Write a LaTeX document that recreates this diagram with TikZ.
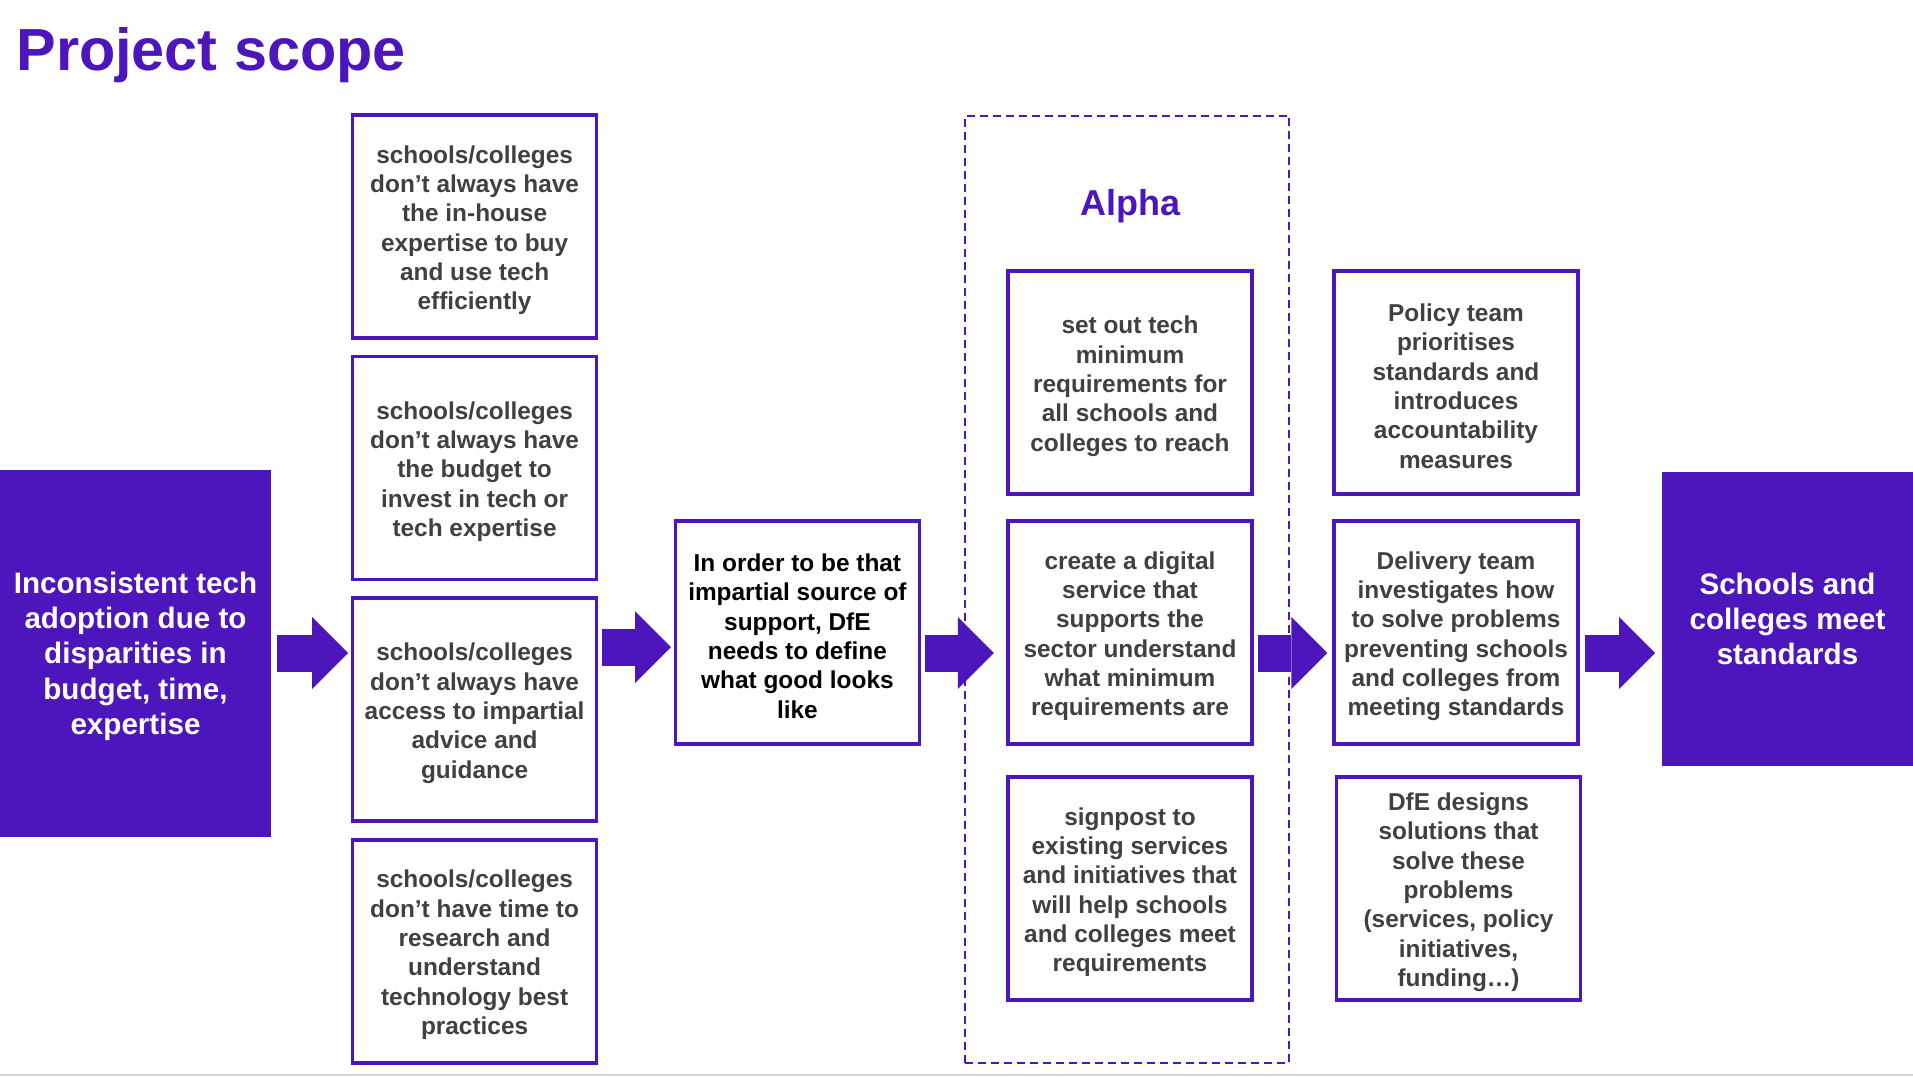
\documentclass[tikz,border=0pt]{standalone}
\usepackage{fontspec}
\setmainfont{Liberation Sans}
\usepackage{xcolor}
\usepackage{tikz}
\usetikzlibrary{positioning,arrows.meta}
\definecolor{dfepurple}{RGB}{76,22,188}
\definecolor{textgrey}{RGB}{64,64,64}
\definecolor{rulegrey}{RGB}{212,212,212}
\newcommand{\tstrut}{\rule{0pt}{12.5pt}}

\begin{document}
\begin{tikzpicture}[
      node distance=7.5pt and 39.2pt,
      box/.style={draw=dfepurple, line width=1.8pt, align=center,
                  minimum width=122pt, minimum height=111.5pt, inner sep=2pt,
                  text=textgrey, font=\fontsize{12.2}{14.65}\selectfont\bfseries},
      keybox/.style={box, text=black},
      endbox/.style={fill=dfepurple, align=center, text=white, inner sep=0pt,
                     font=\fontsize{14.8}{17.7}\selectfont\bfseries},
      phase/.style={draw=dfepurple, line width=1pt, dash pattern=on 4pt off 2.5pt},
      bigarr/.style={-{Triangle[length=18pt, width=36pt, line width=0pt]},
                     line width=18.5pt, draw=dfepurple, shorten <=2pt, shorten >=2pt}
  ]
  \useasboundingbox (0,0) rectangle (956.5pt,-538.5pt);

  %% ---- Title
  \node[anchor=base west, inner sep=0pt, text=dfepurple,
        font=\fontsize{29.7}{36}\selectfont\bfseries] (title) at (8pt,-35pt) {Project scope};

  %% ---- Start and end blocks
  \node[endbox, minimum width=135.5pt, minimum height=183.5pt] (problem) at (67.75pt,-326.75pt)
    {\rule{0pt}{13.5pt}Inconsistent tech\\adoption due to\\disparities in\\budget, time,\\expertise};
  \node[endbox, minimum width=125.5pt, minimum height=147pt] (goal) at (893.75pt,-309.5pt)
    {Schools and\\colleges meet\\standards};

  %% ---- Column 1: causes (stacked top to bottom)
  \node[box] (cause1) at (237.3pt,-113.2pt)
    {\tstrut schools/colleges\\don’t always have\\the in-house\\expertise to buy\\and use tech\\efficiently};
  \node[box, below=of cause1] (cause2)
    {\tstrut schools/colleges\\don’t always have\\the budget to\\invest in tech or\\tech expertise};
  \node[box, below=of cause2] (cause3)
    {\tstrut schools/colleges\\don’t always have\\access to impartial\\advice and\\guidance};
  \node[box, below=of cause3] (cause4)
    {\tstrut schools/colleges\\don’t have time to\\research and\\understand\\technology best\\practices};

  %% ---- Column 2: what DfE needs
  \node[keybox] (need) at (398.7pt,-316.25pt)
    {\tstrut In order to be that\\impartial source of\\support, DfE\\needs to define\\what good looks\\like};

  %% ---- Column 3: Alpha phase (dashed frame)
  \node[phase, minimum width=162.25pt, minimum height=473.3pt] (alpha) at (563.6pt,-294.65pt) {};
  \node[text=dfepurple, font=\fontsize{18}{22}\selectfont\bfseries] (alphalabel) at (565pt,-103pt) {Alpha};
  \node[box] (alpha1) at (565pt,-191.25pt)
    {\tstrut set out tech\\minimum\\requirements for\\all schools and\\colleges to reach};
  \node[box, below=11.7pt of alpha1] (alpha2)
    {\tstrut create a digital\\service that\\supports the\\sector understand\\what minimum\\requirements are};
  \node[box, below=14.7pt of alpha2] (alpha3)
    {\tstrut signpost to\\existing services\\and initiatives that\\will help schools\\and colleges meet\\requirements};

  %% ---- Column 4: after alpha
  \node[box, right=of alpha1] (next1)
    {\tstrut Policy team\\prioritises\\standards and\\introduces\\accountability\\measures};
  \node[box, below=11.7pt of next1] (next2)
    {\tstrut Delivery team\\investigates how\\to solve problems\\preventing schools\\and colleges from\\meeting standards};
  \node[box, below=14.7pt of next2, xshift=1.25pt] (next3)
    {\tstrut DfE designs\\solutions that\\solve these\\problems\\(services, policy\\initiatives,\\funding…)};

  %% ---- Block arrows along the main row
  \coordinate (row)  at (0,-326.5pt);
  \coordinate (row2) at (0,-323.5pt);
  \draw[bigarr, shorten <=3pt, shorten >=1.3pt] (problem.east |- row) -- (cause3.west |- row);
  \draw[bigarr, shorten <=1.7pt, shorten >=1.3pt] (cause3.east |- row2) -- (need.west |- row2);
  \draw[bigarr, shorten <=1.7pt, shorten >=6.2pt] (need.east |- row) -- (alpha2.west |- row);
  \draw[bigarr, shorten <=2.3pt, shorten >=2.4pt] (alpha2.east |- row) -- (next2.west |- row);
  \draw[bigarr, shorten <=2.4pt, shorten >=3.2pt] (next2.east |- row) -- (goal.west |- row);

  %% ---- slide edge
  \draw[rulegrey, line width=1pt] (0,-537.6pt) -- (956.5pt,-537.6pt);
\end{tikzpicture}
\end{document}
